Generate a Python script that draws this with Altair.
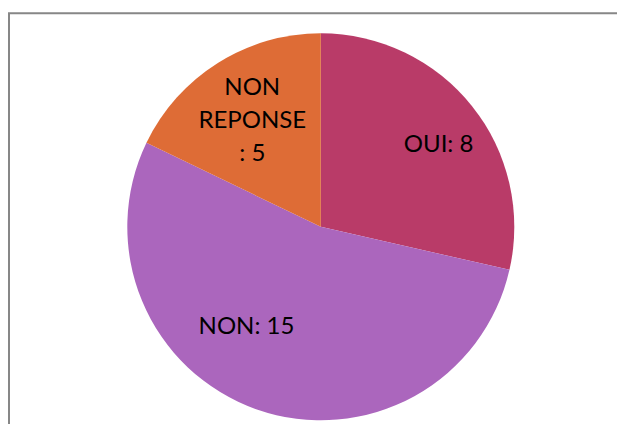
import altair as alt
import pandas as pd

categories = ["OUI", "NON", "NON REPONSE"]
values = [8, 15, 5]
labels = ["OUI: 8", "NON: 15", "NON\nREPONSE\n: 5"]
colors = ["#B93B68", "#AB66BD", "#DE6C36"]

df = pd.DataFrame({
    "category": categories,
    "value": values,
    "label": labels,
    "order": list(range(len(categories))),
})
total = sum(values)

W, H = 609, 416
CX, CY = 312.8, 218.8
R = 193.5

base = alt.Chart(df)
theta_scale = alt.Scale(domain=[0, total])

frame = base.mark_rect(fillOpacity=0, stroke="#878787", strokeWidth=2).encode(
    x=alt.value(1), x2=alt.value(900), y=alt.value(5.3), y2=alt.value(900)
).transform_filter(alt.datum.order == 0)

arc = base.mark_arc(x=CX, y=CY, radius=R).encode(
    theta=alt.Theta("value:Q", stack=True, scale=theta_scale),
    color=alt.Color("category:N", scale=alt.Scale(domain=categories, range=colors), legend=None),
    order=alt.Order("order:Q"),
)

label_pos = {
    "OUI": dict(radius=143, dx=6, dy=7),
    "NON": dict(radius=119, dx=-35, dy=-12),
    "NON REPONSE": dict(radius=126, dx=-1.5, dy=-32),
}

texts = []
for cat in categories:
    p = label_pos[cat]
    t = base.transform_window(
        cum="sum(value)", sort=[alt.SortField("order")], frame=[None, 0]
    ).transform_calculate(
        mid="datum.cum - datum.value / 2"
    ).transform_filter(
        alt.datum.category == cat
    ).mark_text(
        x=CX, y=CY, radius=p["radius"], dx=p["dx"], dy=p["dy"],
        font="Lato", fontSize=24, lineHeight=33, lineBreak="\n",
        color="#000000", align="center", baseline="middle",
    ).encode(
        theta=alt.Theta("mid:Q", stack=None, scale=theta_scale),
        text="label:N",
    )
    texts.append(t)

chart = alt.layer(frame, arc, *texts).properties(
    width=W, height=H, padding=0, autosize=alt.AutoSizeParams(type="none"),
    background="white",
).configure_view(stroke=None)

chart.save("out.html", embed_options={"renderer": "svg", "actions": False})
